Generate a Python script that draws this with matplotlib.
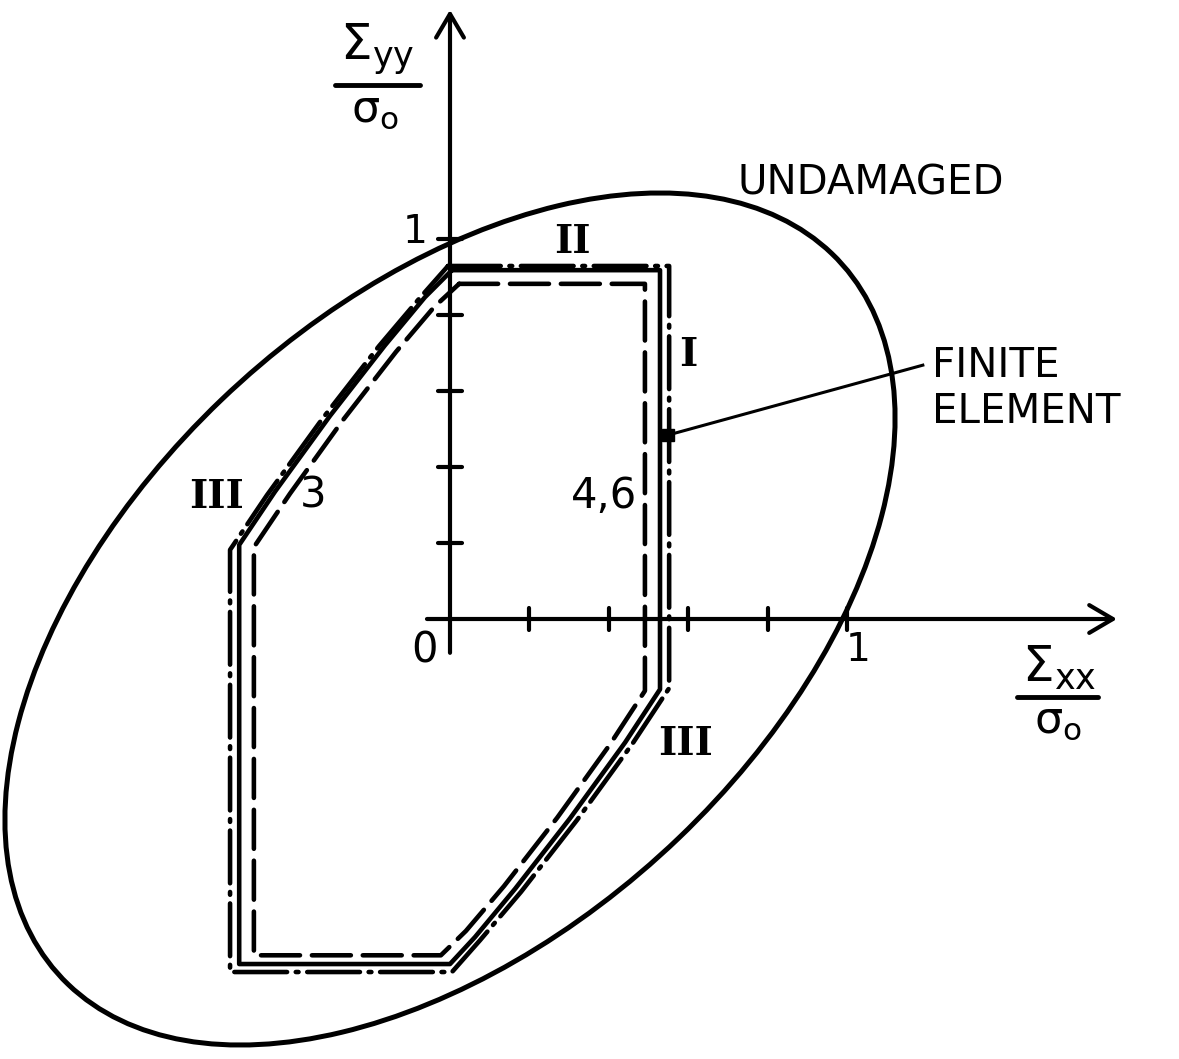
import matplotlib
matplotlib.use("Agg")
import matplotlib.pyplot as plt
from matplotlib.patches import Ellipse

# Yield surface of the undamaged material (ellipse, principal axes at 45 deg)
UNDAMAGED_SEMI_AXES = (1.36, 0.815)

# Damaged yield surfaces (normalised stresses Sxx/s0, Syy/s0), traced as closed polygons
SOLID_X = [0.005, 0.529, 0.529, 0.441, 0.302, 0.164, 0.063, 0.000,
           -0.531, -0.531, -0.441, -0.302, -0.164, -0.063, 0.005]
SOLID_Y = [0.918, 0.918, -0.185, -0.325, -0.525, -0.710, -0.837, -0.908,
           -0.908, 0.195, 0.335, 0.535, 0.720, 0.847, 0.918]

DASHED_X = [0.023, 0.491, 0.491, 0.403, 0.270, 0.136, 0.040, -0.023,
            -0.494, -0.494, -0.403, -0.270, -0.136, -0.040, 0.023]
DASHED_Y = [0.882, 0.882, -0.189, -0.330, -0.523, -0.703, -0.821, -0.885,
            -0.885, 0.189, 0.330, 0.523, 0.703, 0.821, 0.882]

DASHDOT_X = [-0.005, 0.552, 0.552, 0.461, 0.320, 0.179, 0.076, 0.005,
             -0.554, -0.554, -0.461, -0.320, -0.179, -0.076, -0.005]
DASHDOT_Y = [0.929, 0.929, -0.182, -0.326, -0.529, -0.718, -0.845, -0.929,
             -0.929, 0.182, 0.326, 0.529, 0.718, 0.845, 0.929]

# Finite element result marker
FE_POINT = (0.549, 0.484)

X_TICKS = [0.2, 0.4, 0.6, 0.8, 1.0]
Y_TICKS = [0.2, 0.4, 0.6, 0.8, 1.0]

W, H = 1179, 1059
fig = plt.figure(figsize=(W / 100, H / 100), dpi=100)
ax = fig.add_axes([0, 0, 1, 1])
ax.set_xlim(-450 / 397, (W - 450) / 397)
ax.set_ylim((619 - H) / 380, 619 / 380)
ax.axis("off")

K = "black"
SANS = "DejaVu Sans"
SERIF = "DejaVu Serif"

# Coordinate axes with open arrow heads
arrow = dict(arrowstyle="->,head_length=1.7,head_width=1.0", lw=3, color=K,
             mutation_scale=10, shrinkA=0, shrinkB=0)
ax.annotate("", xy=(0, 1.603), xytext=(0, -0.089), arrowprops=arrow)
ax.annotate("", xy=(1.68, 0), xytext=(-0.058, 0), arrowprops=arrow)

for t in X_TICKS:
    ax.plot([t, t], [-0.029, 0.029], color=K, lw=3, solid_capstyle="round")
for t in Y_TICKS:
    ax.plot([-0.03, 0.03], [t, t], color=K, lw=3, solid_capstyle="round")

# Undamaged yield ellipse
ax.add_patch(Ellipse((0, 0), 2 * UNDAMAGED_SEMI_AXES[0], 2 * UNDAMAGED_SEMI_AXES[1],
                     angle=45, fill=False, lw=3.6, ec=K))

# Damaged surfaces
ax.plot(SOLID_X, SOLID_Y, color=K, lw=3.3, solid_joinstyle="round")
ax.plot(DASHED_X, DASHED_Y, color=K, lw=3.3, dashes=(8.5, 2.6),
        dash_capstyle="round")
ax.plot(DASHDOT_X, DASHDOT_Y, color=K, lw=3.3, dashes=(11.5, 1.9, 0.6, 1.9),
        dash_capstyle="round")

# Finite element leader
ax.plot([FE_POINT[0], 1.191], [FE_POINT[1], 0.668], color=K, lw=2.2)
ax.plot([FE_POINT[0]], [FE_POINT[1]], marker="s", ms=8, color=K)

# Labels
ax.text(-0.063, -0.084, "0", fontsize=30, family=SANS, ha="center", va="center")
ax.text(1.028, -0.082, "1", fontsize=28, family=SANS, ha="center", va="center")
ax.text(-0.088, 1.018, "1", fontsize=28, family=SANS, ha="center", va="center")

ax.text(0.307, 0.992, "II", fontsize=28, family=SERIF, weight="bold", ha="center", va="center")
ax.text(0.599, 0.695, "I", fontsize=28, family=SERIF, weight="bold", ha="center", va="center")
ax.text(-0.587, 0.321, "III", fontsize=28, family=SERIF, weight="bold", ha="center", va="center")
ax.text(0.592, -0.329, "III", fontsize=28, family=SERIF, weight="bold", ha="center", va="center")

ax.text(-0.345, 0.326, "3", fontsize=30, family=SANS, ha="center", va="center")
ax.text(0.388, 0.292, "4,6", fontsize=30, family=SANS, ha="center", va="baseline")

ax.text(1.06, 1.145, "UNDAMAGED", fontsize=29, family=SANS, ha="center", va="center")
ax.text(1.214, 0.637, "FINITE", fontsize=29, family=SANS, ha="left", va="baseline")
ax.text(1.214, 0.516, "ELEMENT", fontsize=29, family=SANS, ha="left", va="baseline")

# Axis titles as fractions
ax.text(-0.184, 1.471, r"$\mathregular{\Sigma_{yy}}$", fontsize=36, ha="center", va="baseline")
ax.plot([-0.290, -0.076], [1.405, 1.405], color=K, lw=3.5, solid_capstyle="round")
ax.text(-0.189, 1.308, r"$\mathregular{\sigma_o}$", fontsize=32, ha="center", va="baseline")

ax.text(1.534, -0.166, r"$\mathregular{\Sigma_{xx}}$", fontsize=36, ha="center", va="baseline")
ax.plot([1.428, 1.632], [-0.205, -0.205], color=K, lw=3.5, solid_capstyle="round")
ax.text(1.532, -0.300, r"$\mathregular{\sigma_o}$", fontsize=32, ha="center", va="baseline")

fig.savefig("out.png", dpi=100, facecolor="white")
